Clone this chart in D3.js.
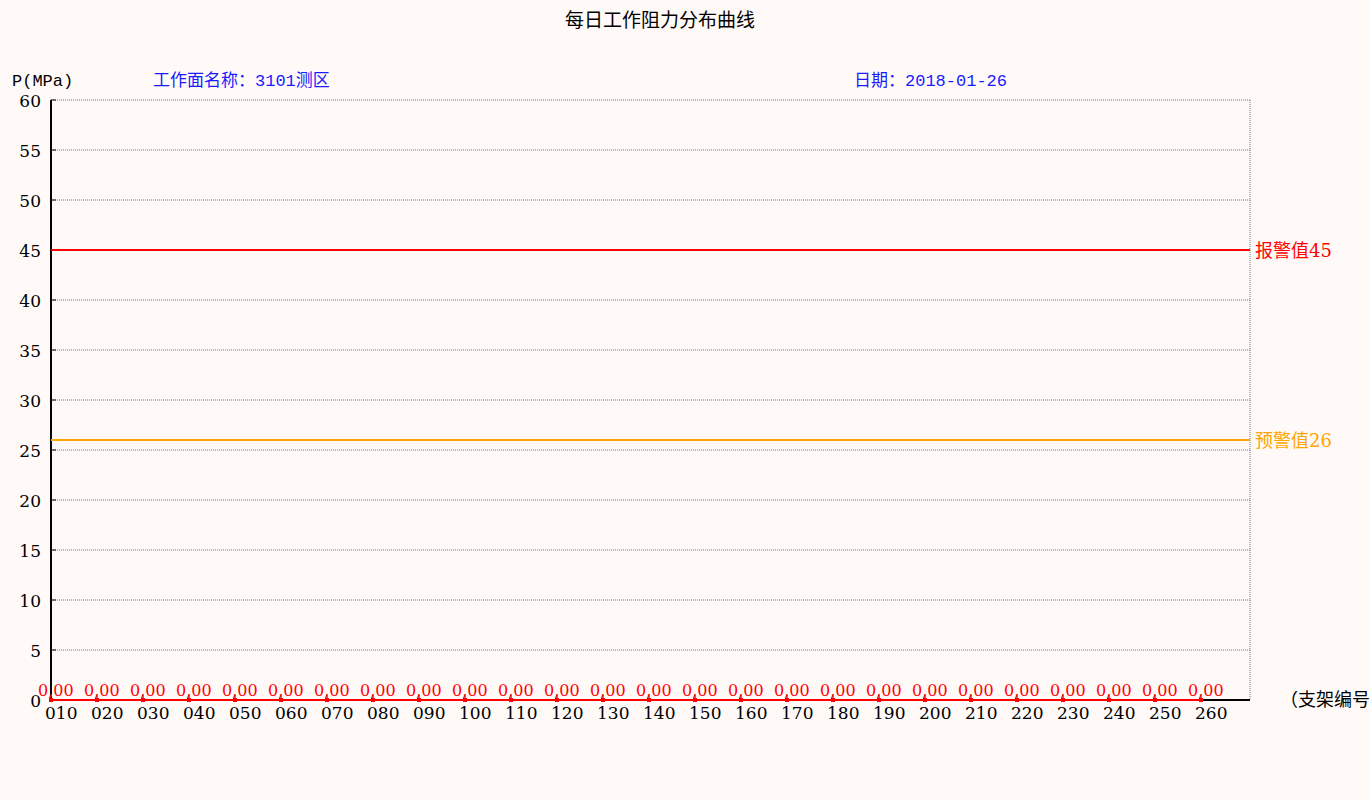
<!DOCTYPE html>
<html>
<head>
<meta charset="utf-8">
<script src="https://d3js.org/d3.v7.min.js"></script>
<style>
  body { margin: 0; background: #fffaf8; }
  text { font-family: "DejaVu Serif", "Noto Sans CJK SC", serif; }
  .mono { font-family: "Liberation Mono", "Noto Sans CJK SC", monospace; }
</style>
</head>
<body>
<svg width="1370" height="800"></svg>
<script>
var supports = ["010","020","030","040","050","060","070","080","090","100","110","120","130","140","150","160","170","180","190","200","210","220","230","240","250","260"];
var pressures = [0,0,0,0,0,0,0,0,0,0,0,0,0,0,0,0,0,0,0,0,0,0,0,0,0,0];
var yTicks = [0,5,10,15,20,25,30,35,40,45,50,55,60];
var alarmValue = 45, warnValue = 26;

var svg = d3.select("svg");
var pLeft = 51, pRight = 1250, pTop = 100, pBottom = 700;

var x = d3.scalePoint().domain(supports).range([pLeft, pLeft + 46 * (supports.length - 1)]);
var y = d3.scaleLinear().domain([0, 60]).range([pBottom, pTop]);

svg.append("rect").attr("width", 1370).attr("height", 800).attr("fill", "#fffaf8");

// grid
svg.selectAll(".grid").data(yTicks.filter(d => d > 0)).enter().append("line")
  .attr("x1", pLeft).attr("x2", pRight).attr("y1", d => y(d)).attr("y2", d => y(d))
  .attr("stroke", "#777").attr("stroke-dasharray", "1,1");
svg.append("line").attr("x1", pRight).attr("x2", pRight).attr("y1", pTop).attr("y2", pBottom)
  .attr("stroke", "#777").attr("stroke-dasharray", "1,1");

// axes
svg.append("line").attr("x1", pLeft).attr("x2", pLeft).attr("y1", pTop).attr("y2", pBottom).attr("stroke", "#000").attr("stroke-width", 2);
svg.append("line").attr("x1", pLeft).attr("x2", pRight).attr("y1", pBottom).attr("y2", pBottom).attr("stroke", "#000").attr("stroke-width", 2);

svg.selectAll(".ytick").data(yTicks).enter().append("g").each(function(d) {
  var g = d3.select(this);
  g.append("line").attr("x1", pLeft).attr("x2", pLeft + 5).attr("y1", y(d)).attr("y2", y(d)).attr("stroke", "#000");
  g.append("text").attr("x", 41).attr("y", y(d) + 7).attr("text-anchor", "end")
    .attr("font-size", 17).attr("fill", "#000").text(d);
});

svg.selectAll(".xtick").data(supports).enter().append("g").each(function(d) {
  var g = d3.select(this);
  g.append("line").attr("x1", x(d)).attr("x2", x(d)).attr("y1", pBottom).attr("y2", pBottom - 5).attr("stroke", "#000");
  g.append("text").attr("x", x(d) - 6).attr("y", pBottom + 19).attr("font-size", 17).attr("fill", "#000").text(d);
});

// threshold lines
svg.append("line").attr("x1", pLeft).attr("x2", pRight).attr("y1", y(alarmValue)).attr("y2", y(alarmValue)).attr("stroke", "red").attr("stroke-width", 2);
svg.append("text").attr("x", 1255).attr("y", y(alarmValue) + 7).attr("font-size", 18).attr("fill", "red").text("报警值" + alarmValue);
svg.append("line").attr("x1", pLeft).attr("x2", pRight).attr("y1", y(warnValue)).attr("y2", y(warnValue)).attr("stroke", "orange").attr("stroke-width", 2);
svg.append("text").attr("x", 1255).attr("y", y(warnValue) + 7).attr("font-size", 18).attr("fill", "orange").text("预警值" + warnValue);

// data line
var data = supports.map((s, i) => ({s: s, v: pressures[i]}));
svg.append("path").datum(data)
  .attr("d", d3.line().x(d => x(d.s)).y(d => y(d.v)))
  .attr("fill", "none").attr("stroke", "red").attr("stroke-width", 2);
svg.selectAll(".pt").data(data).enter().append("rect")
  .attr("x", d => x(d.s) - 2).attr("y", d => y(d.v) - 2).attr("width", 4).attr("height", 4).attr("fill", "red");
svg.selectAll(".val").data(data).enter().append("text")
  .attr("x", d => x(d.s) - 13).attr("y", d => y(d.v) - 4).attr("font-size", 16).attr("fill", "red")
  .text(d => d.v.toFixed(2).replace(".", ","));

// titles
svg.append("text").attr("x", 660).attr("y", 27).attr("text-anchor", "middle").attr("font-size", 19).attr("fill", "#000").text("每日工作阻力分布曲线");
svg.append("text").attr("class", "mono").attr("x", 12).attr("y", 86).attr("font-size", 17).attr("fill", "#000").text("P(MPa)");
svg.append("text").attr("class", "mono").attr("x", 153).attr("y", 86).attr("font-size", 17).attr("fill", "#1a1aff").text("工作面名称：3101测区");
svg.append("text").attr("class", "mono").attr("x", 854).attr("y", 86).attr("font-size", 17).attr("fill", "#1a1aff").text("日期：2018-01-26");
svg.append("text").attr("x", 1280).attr("y", 706).attr("font-size", 18).attr("fill", "#000").text("（支架编号）");
</script>
</body>
</html>
